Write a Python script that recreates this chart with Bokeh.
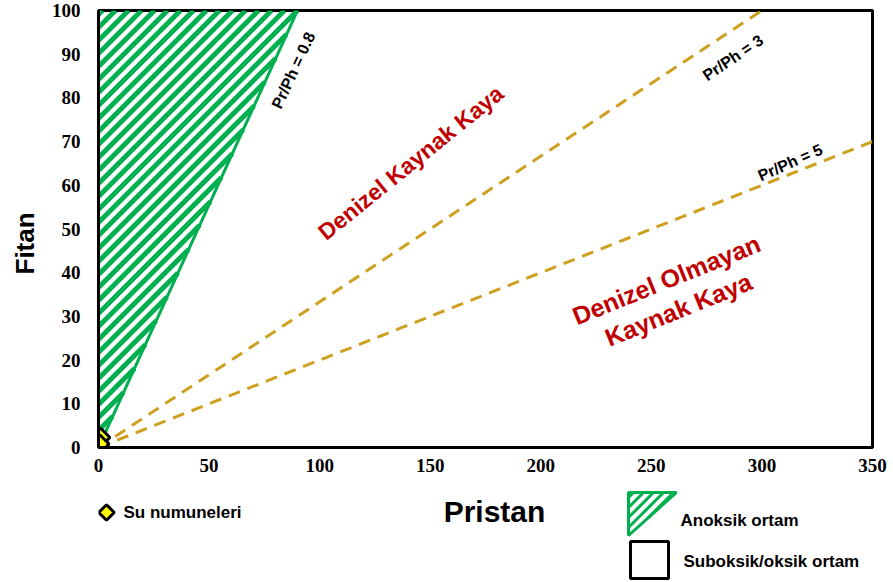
from bokeh.plotting import figure
from bokeh.models import Range1d, Label
from bokeh.layouts import column
from bokeh.core.properties import value
from bokeh.embed import file_html
from bokeh.resources import INLINE

# ---- data ----
x_ticks = [0, 50, 100, 150, 200, 250, 300, 350]
y_ticks = [0, 10, 20, 30, 40, 50, 60, 70, 80, 90, 100]

# anoxic zone (Pr/Ph < 0.8) polygon
anoxic_x = [0, 0, 90]
anoxic_y = [0, 100, 100]
# Pr/Ph = 0.8 boundary
line08_x = [0, 90]
line08_y = [0, 100]
# dashed Pr/Ph lines (3 and 5)
dash_xs = [[0, 300], [0, 350]]
dash_ys = [[0, 100], [0, 70]]

# water samples (Su numuneleri)
su_pristan = [1.0, 0.6]
su_fitan = [2.3, 0.8]
# origin point (blue)
blue_x = [0.0]
blue_y = [0.0]

legend_labels = ["Su numuneleri", "Anoksik ortam", "Suboksik/oksik ortam"]

GREEN = "#00B050"
GOLD = "#CFA020"
RED = "#C00000"
FONT = "Liberation Sans"

W, H1, H2 = 893, 490, 92
FL, FR, FT, FB = 98, 872, 10, 447   # frame edges in canvas pixels
KX = (FR - FL) / 350.0
KY = (FB - FT) / 100.0


def hatch_segments(poly_px, period, c0=0.0):
    """45-degree '/' stripes (px + py = c) clipped to a convex polygon, in pixels."""
    s = [px + py for px, py in poly_px]
    segs = []
    c = min(s) + c0
    while c < max(s):
        pts = []
        n = len(poly_px)
        for i in range(n):
            (x1, y1), (x2, y2) = poly_px[i], poly_px[(i + 1) % n]
            f1, f2 = x1 + y1 - c, x2 + y2 - c
            if f1 == f2:
                continue
            if (f1 <= 0 <= f2) or (f2 <= 0 <= f1):
                t = f1 / (f1 - f2)
                pts.append((x1 + t * (x2 - x1), y1 + t * (y2 - y1)))
        if len(pts) >= 2:
            pts.sort()
            segs.append((pts[0], pts[-1]))
        c += period
    return segs


p = figure(width=W, height=H1, output_backend="svg", toolbar_location=None,
           x_range=Range1d(0, 350), y_range=Range1d(0, 100),
           min_border_left=FL, min_border_right=W - FR, min_border_top=FT,
           min_border_bottom=H1 - FB)

p.xgrid.visible = False
p.ygrid.visible = False
p.outline_line_color = "black"
p.outline_line_width = 3

for ax in (p.xaxis[0], p.yaxis[0]):
    ax.major_tick_in = 0
    ax.major_tick_out = 0
    ax.minor_tick_line_color = None
    ax.axis_line_color = "black"
    ax.axis_line_width = 3
    ax.major_label_text_font = "Liberation Serif"
    ax.major_label_text_font_style = "bold"
    ax.major_label_text_font_size = "19px"
    ax.major_label_text_color = "black"

p.xaxis.ticker = x_ticks
p.yaxis.ticker = y_ticks
p.yaxis.axis_label = "Fitan" + "\u00a0" * 4
p.yaxis.axis_label_text_font = FONT
p.yaxis.axis_label_text_font_style = "bold"
p.yaxis.axis_label_text_font_size = "26px"
p.yaxis.axis_label_text_color = "black"
p.xaxis.major_label_standoff = 11
p.yaxis.major_label_standoff = 18
p.yaxis.axis_label_standoff = 9

# anoxic zone stripes (computed in screen pixels from the data polygon)
tri_px = [(FL + x * KX, FB - y * KY) for x, y in zip(anoxic_x, anoxic_y)]
segs = hatch_segments(tri_px, 13.0, 4.0)
hx = [[(a[0] - FL) / KX, (b[0] - FL) / KX] for a, b in segs]
hy = [[(FB - a[1]) / KY, (FB - b[1]) / KY] for a, b in segs]
p.multi_line(hx, hy, line_color=GREEN, line_width=5)
p.line(line08_x, line08_y, line_color=GREEN, line_width=3)

# dashed lines
p.multi_line(dash_xs, dash_ys, line_color=GOLD, line_width=3, line_dash="12 8")

# points
p.scatter(blue_x, blue_y, marker="circle", size=16, fill_color="#5B9BD5", line_color=None)
p.scatter(su_pristan, su_fitan, marker="square", angle=0.785398, size=13,
          fill_color="#FFFF00", line_color="black", line_width=3)


def lab(x, y, text, angle, size, color="black"):
    p.add_layout(Label(x=x, y=y, text=text, angle=angle, angle_units="deg",
                       text_align="center", text_baseline="middle",
                       text_font=FONT, text_font_style="bold",
                       text_font_size=size, text_color=color, text_line_height=1.15))


lab(88.1, 86.3, "Pr/Ph = 0.8", 65, "16px")
lab(286.9, 89.2, "Pr/Ph = 3", 34, "16px")
lab(312.8, 65.2, "Pr/Ph = 5", 24, "16px")
lab(141.2, 65.2, "Denizel Kaynak Kaya", 39, "23px", RED)
lab(259.5, 35.0, "Denizel Olmayan\nKaynak Kaya", 22, "25px", RED)

# ---- band below: x-axis title and legend (pixel coordinates of the page) ----
# its frame is aligned with the main frame (FL..FR), so use those as x range
q = figure(width=W, height=H2, output_backend="svg", toolbar_location=None,
           x_range=Range1d(FL, FR), y_range=Range1d(H1 + H2, H1),
           min_border_left=FL, min_border_right=W - FR, min_border_top=0, min_border_bottom=0,
           x_axis_type=None, y_axis_type=None)
q.xgrid.visible = False
q.ygrid.visible = False
q.outline_line_color = None

q.text(x=[494], y=[511], text=["Pristan"], text_font=value(FONT), text_font_style="bold",
       text_font_size="30px", text_color="black", text_align="center", text_baseline="middle")

# legend: water samples
q.scatter([106], [512], marker="square", angle=0.785398, size=11,
          fill_color="#FFFF00", line_color="black", line_width=3)
# legend: anoxic triangle with stripes
leg_tri = [(628, 492), (676, 492), (628, 535)]
lsegs = hatch_segments(leg_tri, 10.0, 5.0)
q.multi_line([[a[0], b[0]] for a, b in lsegs], [[a[1], b[1]] for a, b in lsegs],
             line_color=GREEN, line_width=3)
q.patch([v[0] for v in leg_tri], [v[1] for v in leg_tri], fill_alpha=0,
        line_color=GREEN, line_width=3)
# legend: suboxic square
q.patch([630, 668, 668, 630], [541, 541, 578, 578], fill_alpha=0,
        line_color="black", line_width=3)

q.text(x=[123, 680, 683], y=[512, 520, 561], text=legend_labels, text_font=value(FONT),
       text_font_style="bold", text_font_size="17px", text_color="black",
       text_align="left", text_baseline="middle")

open("out.html", "w").write(file_html(column(p, q, spacing=0), INLINE))
